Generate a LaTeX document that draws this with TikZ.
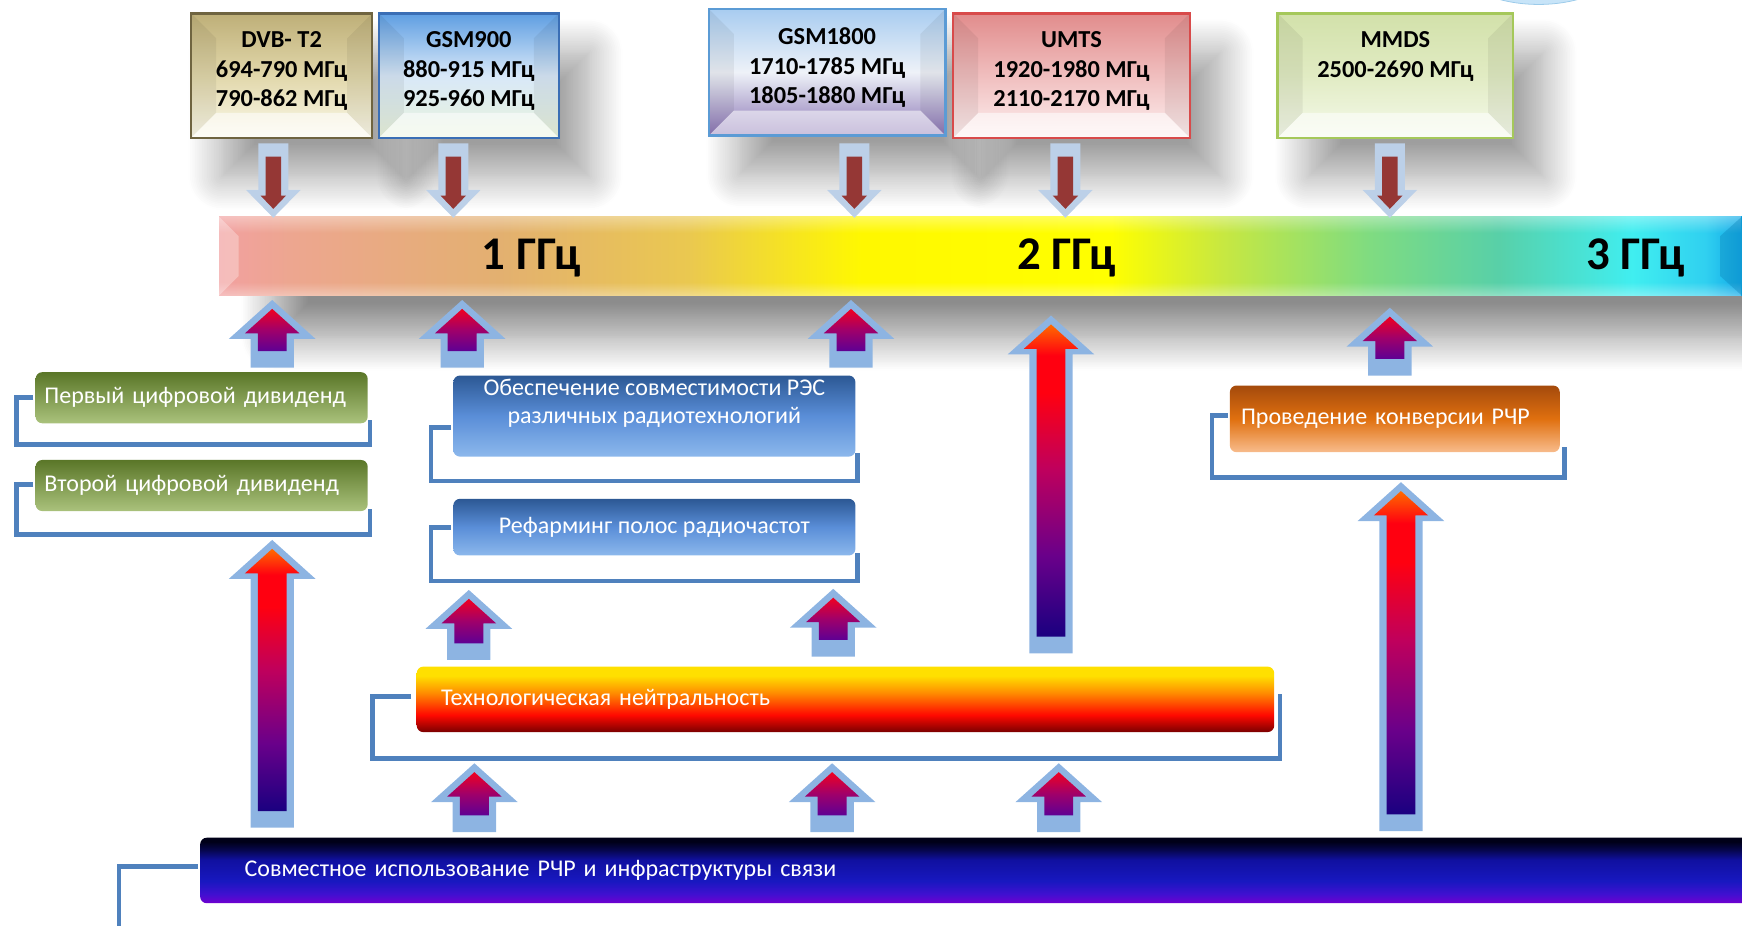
\documentclass[tikz,border=0pt]{standalone}
\usepackage{fontspec}
\setmainfont{Carlito}
\usetikzlibrary{shadows.blur,fadings}

\definecolor{dvbT}{HTML}{BEAF78}
\definecolor{dvbM}{HTML}{E1D7AA}
\definecolor{dvbB}{HTML}{FCFAEB}
\definecolor{dvbL}{HTML}{6F6440}
\definecolor{g9T}{HTML}{5E9EE2}
\definecolor{g9M}{HTML}{D8E8F8}
\definecolor{g9B}{HTML}{EAF4DC}
\definecolor{g9L}{HTML}{3A6EB5}
\definecolor{g18T}{HTML}{A8CCF0}
\definecolor{g18M}{HTML}{EEF2F8}
\definecolor{g18B}{HTML}{8A74B4}
\definecolor{g18L}{HTML}{5B9BD5}
\definecolor{umT}{HTML}{E18C8C}
\definecolor{umM}{HTML}{F0BEBE}
\definecolor{umB}{HTML}{FDF0F0}
\definecolor{umL}{HTML}{D84A4A}
\definecolor{mmT}{HTML}{D2E1AA}
\definecolor{mmM}{HTML}{E1EBC3}
\definecolor{mmB}{HTML}{F5FAEB}
\definecolor{mmL}{HTML}{A5C85A}
\definecolor{bandA}{HTML}{F2A0A0}
\definecolor{bandB}{HTML}{EDA690}
\definecolor{bandC}{HTML}{E3B070}
\definecolor{bandD}{HTML}{EAC850}
\definecolor{bandE}{HTML}{FFF800}
\definecolor{bandF}{HTML}{FFFF00}
\definecolor{bandG}{HTML}{C8E840}
\definecolor{bandH}{HTML}{80DC80}
\definecolor{bandI}{HTML}{58D0A8}
\definecolor{bandJ}{HTML}{40EEF0}
\definecolor{bandK}{HTML}{30D0F0}
\definecolor{bandL}{HTML}{10A8E8}
\definecolor{grnT}{HTML}{5A7628}
\definecolor{grnB}{HTML}{AAC27C}
\definecolor{bluT}{HTML}{2C5894}
\definecolor{bluM}{HTML}{5A8ED8}
\definecolor{bluB}{HTML}{8CB8EC}
\definecolor{orT}{HTML}{A44A0C}
\definecolor{orM}{HTML}{E0700F}
\definecolor{orB}{HTML}{F8BC8C}
\definecolor{techY}{HTML}{FFE000}
\definecolor{techO}{HTML}{FF8C00}
\definecolor{techR}{HTML}{FF0800}
\definecolor{techD}{HTML}{7A0000}
\definecolor{botK}{HTML}{000018}
\definecolor{botN}{HTML}{06064A}
\definecolor{botD}{HTML}{1010A0}
\definecolor{botB}{HTML}{1818C0}
\definecolor{botV}{HTML}{4010D0}
\definecolor{botP}{HTML}{7000D0}
\definecolor{orgu}{HTML}{FF6A00}
\definecolor{redu}{HTML}{FF0010}
\definecolor{magu}{HTML}{C0005C}
\definecolor{purpu}{HTML}{6A008A}
\definecolor{navyu}{HTML}{1A0080}
\definecolor{sredT}{HTML}{F00020}
\definecolor{sredM}{HTML}{A0006A}
\definecolor{sredB}{HTML}{5E0094}
\definecolor{upbl}{HTML}{8DB4E2}
\definecolor{dnbl}{HTML}{BCD0E8}
\definecolor{dnred}{HTML}{953735}
\definecolor{brk}{HTML}{4F81BD}
\definecolor{cloud}{HTML}{C7E4F8}
\definecolor{cloudL}{HTML}{9CCBEA}

\pgfdeclarehorizontalshading{bandshade}{100bp}{color(0bp)=(bandA); color(25bp)=(bandA); color(27.3bp)=(bandB); color(34.2bp)=(bandC); color(40.4bp)=(bandD); color(46.1bp)=(bandE); color(54.3bp)=(bandF); color(57.9bp)=(bandG); color(62.7bp)=(bandH); color(67bp)=(bandI); color(71.4bp)=(bandJ); color(73.8bp)=(bandK); color(75bp)=(bandL); color(100bp)=(bandL)}
\pgfdeclareverticalshading{techshade}{100bp}{color(0bp)=(techD); color(25bp)=(techD); color(38bp)=(techR); color(55bp)=(techO); color(68bp)=(techY); color(100bp)=(techY)}
\pgfdeclareverticalshading{botshade}{100bp}{color(0bp)=(botP); color(25bp)=(botP); color(32bp)=(botV); color(42bp)=(botB); color(58bp)=(botD); color(66bp)=(botN); color(72bp)=(botK); color(100bp)=(botK)}
\pgfdeclareverticalshading{longup}{100bp}{color(0bp)=(navyu); color(25bp)=(navyu); color(38bp)=(purpu); color(52bp)=(magu); color(64bp)=(redu); color(70bp)=(redu); color(75bp)=(orgu); color(100bp)=(orgu)}
\pgfdeclareverticalshading{shortup}{100bp}{color(0bp)=(sredB); color(25bp)=(sredB); color(50bp)=(sredM); color(75bp)=(sredT); color(100bp)=(sredT)}

\tikzfading[name=fadedown, top color=transparent!0, bottom color=transparent!100]
\tikzfading[name=fadeup, top color=transparent!100, bottom color=transparent!0]

\newcommand{\arrup}[3]{%
  \fill[upblue] let \p1=(#1), \p2=(#2) in
    (\x1-0.39cm,\y1) -- (\x1-0.39cm,\y2-0.7cm) -- (\x1-0.78cm,\y2-0.7cm) -- (\x1,\y2)
    -- (\x1+0.78cm,\y2-0.7cm) -- (\x1+0.39cm,\y2-0.7cm) -- (\x1+0.39cm,\y1) -- cycle;
  \shade[shading=#3] let \p1=(#1), \p2=(#2) in
    (\x1-0.26cm,\y1+0.3cm) -- (\x1-0.26cm,\y2-0.6cm) -- (\x1-0.49cm,\y2-0.6cm) -- (\x1,\y2-0.16cm)
    -- (\x1+0.49cm,\y2-0.6cm) -- (\x1+0.26cm,\y2-0.6cm) -- (\x1+0.26cm,\y1+0.3cm) -- cycle;
}
\newcommand{\arrdown}[2]{%
  \fill[downblue] let \p1=(#1), \p2=(#2) in
    (\x1-0.27cm,\y1) -- (\x1-0.27cm,\y2+0.5cm) -- (\x1-0.49cm,\y2+0.5cm) -- (\x1,\y2)
    -- (\x1+0.49cm,\y2+0.5cm) -- (\x1+0.27cm,\y2+0.5cm) -- (\x1+0.27cm,\y1) -- cycle;
  \fill[downred] let \p1=(#1), \p2=(#2) in
    (\x1-0.14cm,\y1-0.24cm) -- (\x1-0.14cm,\y2+0.4cm) -- (\x1-0.23cm,\y2+0.4cm) -- (\x1,\y2+0.16cm)
    -- (\x1+0.23cm,\y2+0.4cm) -- (\x1+0.14cm,\y2+0.4cm) -- (\x1+0.14cm,\y1-0.24cm) -- cycle;
}

\begin{document}
\begin{tikzpicture}[x=0.02cm, y=-0.02cm,
	bevel/.style={path picture={
		\fill[white,opacity=.55] (path picture bounding box.south west) -- ([shift={(0.45cm,0.45cm)}]path picture bounding box.south west) -- ([shift={(-0.45cm,0.45cm)}]path picture bounding box.south east) -- (path picture bounding box.south east) -- cycle;
		\fill[black,opacity=.06] (path picture bounding box.south west) -- ([shift={(0.45cm,0.45cm)}]path picture bounding box.south west) -- ([shift={(0.45cm,-0.45cm)}]path picture bounding box.north west) -- (path picture bounding box.north west) -- cycle;
		\fill[black,opacity=.06] (path picture bounding box.south east) -- ([shift={(-0.45cm,0.45cm)}]path picture bounding box.south east) -- ([shift={(-0.45cm,-0.45cm)}]path picture bounding box.north east) -- (path picture bounding box.north east) -- cycle;}},
	topbox/.style={line width=1.2pt, align=center, font=\fontsize{12.5}{15}\selectfont\bfseries, minimum height=2.24cm, inner sep=0pt, text depth=0.235cm, blur shadow={shadow xshift=0.55cm, shadow yshift=-0.7cm, shadow blur radius=0.6cm, shadow blur steps=20, shadow opacity=38}, bevel},
	ghz/.style={font=\fontsize{24}{27}\selectfont\bfseries},
	wbox/.style={rounded corners=0.12cm, text=white, font=\fontsize{12.3}{15}\selectfont},
	greenbox/.style={wbox, top color=grnT, bottom color=grnB, minimum width=5.98cm, minimum height=0.92cm, text width=5.66cm, inner xsep=0.16cm, align=left},
	bluebox/.style={wbox, top color=bluT, bottom color=bluB, middle color=bluM, minimum width=7.24cm},
	bracket/.style={draw=brk, line width=2.4pt},
	upblue/.style={fill=upbl},
	downblue/.style={fill=dnbl},
	downred/.style={fill=dnred}]
	\useasboundingbox (0,0) rectangle (1568,833);
	\clip (0,0) rectangle (1568,833);
	
	\fill[cloud, draw=cloudL] (1385,-40) ellipse [x radius=1.6cm, y radius=0.88cm];
	
	\node[topbox, draw=dvbL, top color=dvbT, bottom color=dvbB, middle color=dvbM, minimum width=3.26cm] (dvb) at (253.5,68) {DVB- T2\\694-790 МГц\\790-862 МГц};
	\node[topbox, draw=g9L, top color=g9T, bottom color=g9B, middle color=g9M, minimum width=3.24cm] (gsm9) at (422,68) {GSM900\\880-915 МГц\\925-960 МГц};
	\node[topbox, draw=g18L, top color=g18T, bottom color=g18B, middle color=g18M, minimum width=4.26cm, minimum height=2.28cm] (gsm18) at (744.5,65) {GSM1800\\1710-1785 МГц\\1805-1880 МГц};
	\node[topbox, draw=umL, top color=umT, bottom color=umB, middle color=umM, minimum width=4.26cm] (umts) at (964.5,68) {UMTS\\1920-1980 МГц\\2110-2170 МГц};
	\node[topbox, draw=mmL, top color=mmT, bottom color=mmB, middle color=mmM, minimum width=4.24cm] (mmds) at (1256,68) {MMDS\\2500-2690 МГц\\ \mbox{}};
	
	\node[shade, shading=bandshade, minimum width=27.42cm, minimum height=1.42cm, inner sep=0pt, blur shadow={shadow xshift=1cm, shadow yshift=-0.75cm, shadow blur radius=0.6cm, shadow blur steps=20, shadow opacity=45}] (band) at (882.5,230.5) {};
	\fill[white, opacity=.35, path fading=fadedown] (band.north west) rectangle ([yshift=-0.3cm]band.north east);
	\fill[white, opacity=.35, path fading=fadeup] ([yshift=0.25cm]band.south west) rectangle (band.south east);
	\fill[white, opacity=.3] (band.north west) -- ++(0.36cm,-0.36cm) -- ([shift={(0.36cm,0.36cm)}]band.south west) -- (band.south west) -- cycle;
	\fill[bandL!80!black, opacity=.4] (band.north east) -- ++(-0.4cm,-0.36cm) -- ([shift={(-0.4cm,0.36cm)}]band.south east) -- (band.south east) -- cycle;
	\node[ghz] (ghz1) at (478,232) {1 ГГц};
	\node[ghz] (ghz2) at (960,232) {2 ГГц};
	\node[ghz] (ghz3) at (1472,232) {3 ГГц};
	
	\coordinate (dvbs) at (246,129);
	\coordinate (dvbf) at (246,196);
	\coordinate (g9s) at (408,129);
	\coordinate (g9f) at (408,196);
	\coordinate (g18s) at (769,129);
	\coordinate (g18f) at (769,196);
	\coordinate (ums) at (959,129);
	\coordinate (umf) at (959,196);
	\coordinate (mms) at (1251,129);
	\coordinate (mmf) at (1251,196);
	\arrdown{dvbs}{dvbf}
	\arrdown{g9s}{g9f}
	\arrdown{g18s}{g18f}
	\arrdown{ums}{umf}
	\arrdown{mms}{mmf}
	
	\coordinate (firsts) at (245,331);
	\coordinate (firstf) at (245,270);
	\coordinate (compls) at (416,331);
	\coordinate (complf) at (416,270);
	\coordinate (comprs) at (766,331);
	\coordinate (comprf) at (766,270);
	\coordinate (neuts) at (946,588);
	\coordinate (neutf) at (946,284);
	\coordinate (convs) at (1251,338);
	\coordinate (convf) at (1251,277);
	\coordinate (seconds) at (245,745);
	\coordinate (secondf) at (245,486);
	\coordinate (refls) at (422,594);
	\coordinate (reflf) at (422,531);
	\coordinate (refrs) at (750,591);
	\coordinate (refrf) at (750,530);
	\coordinate (techls) at (427,749);
	\coordinate (techlf) at (427,687);
	\coordinate (techms) at (749,749);
	\coordinate (techmf) at (749,687);
	\coordinate (techrs) at (953,749);
	\coordinate (techrf) at (953,687);
	\coordinate (sharels) at (1261,748);
	\coordinate (sharelf) at (1261,434);
	\arrup{firsts}{firstf}{shortup}
	\arrup{compls}{complf}{shortup}
	\arrup{comprs}{comprf}{shortup}
	\arrup{neuts}{neutf}{longup}
	\arrup{convs}{convf}{shortup}
	\arrup{seconds}{secondf}{longup}
	\arrup{refls}{reflf}{shortup}
	\arrup{refrs}{refrf}{shortup}
	\arrup{techls}{techlf}{shortup}
	\arrup{techms}{techmf}{shortup}
	\arrup{techrs}{techrf}{shortup}
	\arrup{sharels}{sharelf}{longup}
	
	\draw[bracket] (30,358) -- (15,358) -- (15,400) -- (333,400) -- (333,378);
	\draw[bracket] (30,436) -- (15,436) -- (15,481) -- (333,481) -- (333,458);
	\draw[bracket] (406,385) -- (388,385) -- (388,433) -- (772,433) -- (772,408);
	\draw[bracket] (406,475) -- (388,475) -- (388,523) -- (772,523) -- (772,498);
	\draw[bracket] (370,627) -- (335,627) -- (335,683) -- (1152,683) -- (1152,625);
	\draw[bracket] (1105,374) -- (1091,374) -- (1091,430) -- (1408,430) -- (1408,402);
	\draw[bracket] (178,780) -- (107,780) -- (107,850);
	
	\node[greenbox] (first) at (181.5,358) {Первый цифровой дивиденд};
	\node[greenbox] (second) at (181.5,437) {Второй цифровой дивиденд};
	\node[bluebox, minimum height=1.46cm] (compat) at (589,374.5) {};
	\node[text=white, font=\fontsize{12.3}{14.2}\selectfont, align=center] (compattext) at (589,363) {Обеспечение совместимости РЭС\\различных радиотехнологий};
	\node[bluebox, minimum height=1.02cm] (refarm) at (589,474.5) {Рефарминг полос радиочастот};
	\node[wbox, top color=orT, bottom color=orB, middle color=orM, minimum width=5.94cm, minimum height=1.2cm, text width=5.54cm, inner xsep=0.2cm, align=left] (conv) at (1255.5,377) {Проведение конверсии РЧР};
	\node[wbox, shade, shading=techshade, minimum width=15.44cm, minimum height=1.18cm, text width=14.56cm, inner xsep=0.44cm, align=left] (tech) at (761,629.5) {Технологическая нейтральность};
	\node[wbox, shade, shading=botshade, minimum width=28.4cm, minimum height=1.18cm, text width=26.8cm, inner xsep=0.8cm, align=left] (share) at (890,783.5) {Совместное использование РЧР и инфраструктуры связи};
\end{tikzpicture}
\end{document}
